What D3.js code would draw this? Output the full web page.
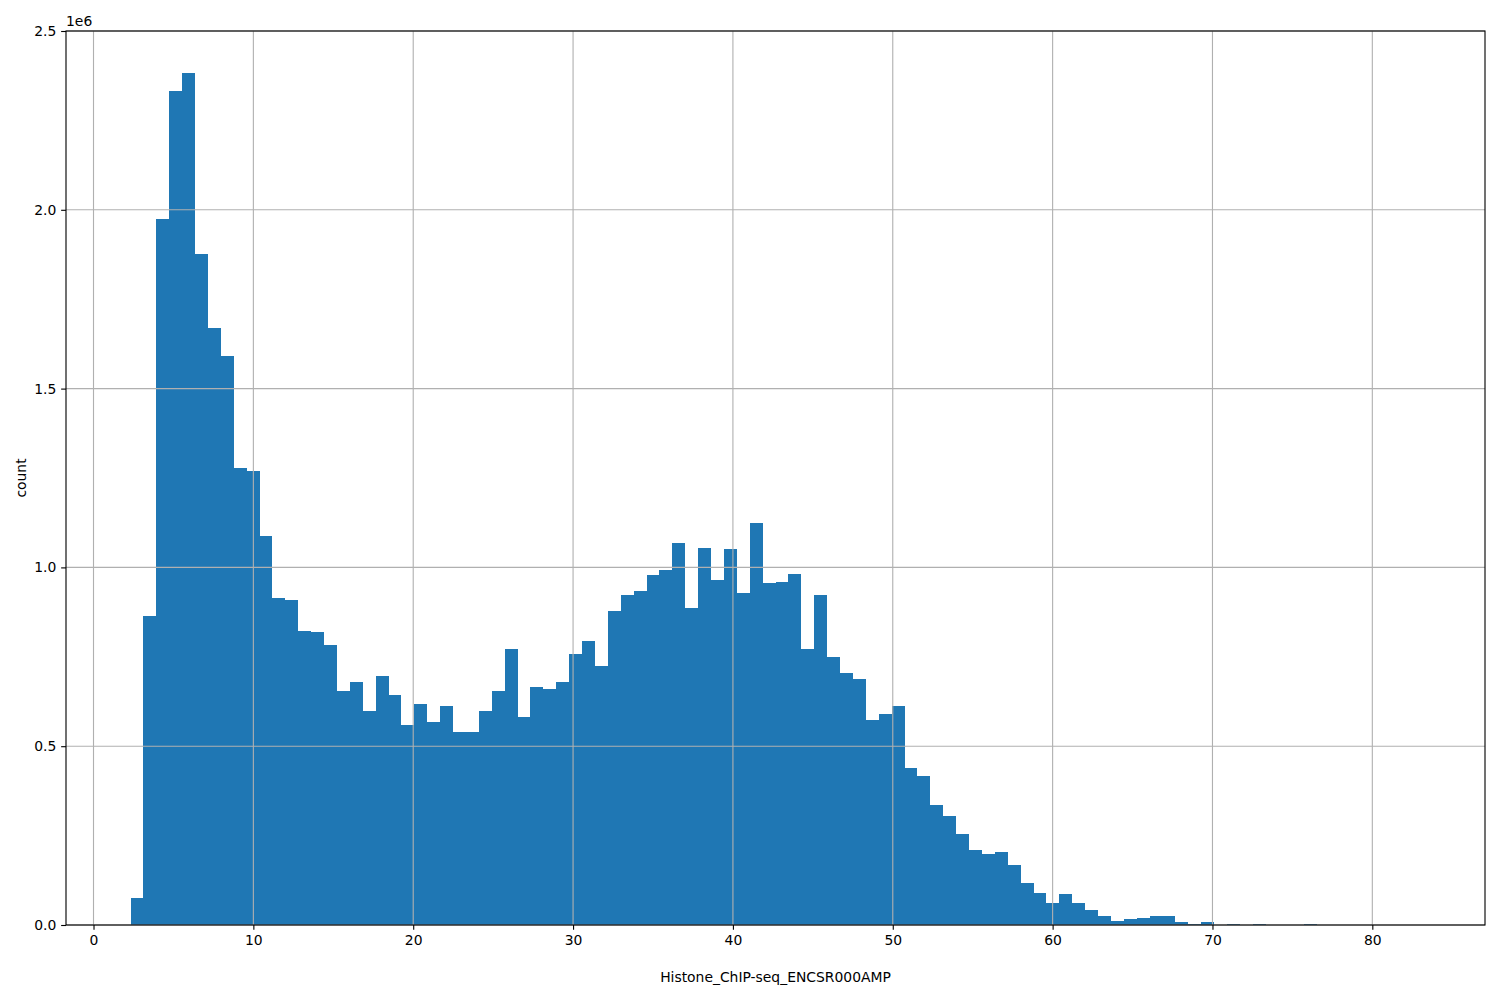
<!DOCTYPE html>
<html>
<head>
<meta charset="utf-8">
<script src="https://cdn.jsdelivr.net/npm/d3@7"></script>
<style>
  html, body { margin: 0; padding: 0; background: #fff; }
  svg { display: block; font-family: "DejaVu Sans", sans-serif; }
</style>
</head>
<body>
<svg id="chart" width="1500" height="1000"></svg>
<script>
// ---- data ----
const binStart = 2.314;     // left edge of first bin
const binWidth = 0.807;     // width of each bin
const counts = [
  76000, 864000, 1974000, 2332000, 2383000, 1876000, 1669000, 1591000, 1278000, 1270000,
  1088000, 914000, 909000, 822000, 819000, 783000, 654000, 680000, 598000, 696000,
  643000, 559000, 618000, 568000, 612000, 540000, 540000, 598000, 654000, 772000,
  582000, 666000, 660000, 680000, 758000, 794000, 724000, 878000, 923000, 934000,
  979000, 993000, 1068000, 886000, 1054000, 965000, 1051000, 928000, 1124000, 956000,
  959000, 982000, 772000, 923000, 749000, 705000, 688000, 573000, 590000, 612000,
  439000, 417000, 336000, 305000, 254000, 210000, 199000, 204000, 168000, 117000,
  89000, 62000, 87000, 62000, 42000, 25000, 11000, 17000, 20000, 25000,
  25000, 7000, 3000, 9000, 0, 3000, 0, 3000, 0, 0,
  0, 3000, 0, 0, 0, 0, 0, 0, 0, 300
];
const xTicks = [0, 10, 20, 30, 40, 50, 60, 70, 80];
const yTicks = [0, 0.5e6, 1.0e6, 1.5e6, 2.0e6, 2.5e6];
const yTickLabels = ["0.0", "0.5", "1.0", "1.5", "2.0", "2.5"];
const xLabel = "Histone_ChIP-seq_ENCSR000AMP";
const yLabel = "count";
const offsetLabel = "1e6";

// ---- layout ----
const L = 66, R = 1485, T = 31, B = 925;
const svg = d3.select("#chart");
const bins = counts.map((c, i) => ({ x0: binStart + i * binWidth, x1: binStart + (i + 1) * binWidth, c }));
const xMin = binStart, xMax = binStart + counts.length * binWidth;
const pad = (xMax - xMin) * 0.05;
const x = d3.scaleLinear().domain([xMin - pad, xMax + pad]).range([L, R]);
const y = d3.scaleLinear().domain([0, 2.5e6]).range([B, T]);

const fs = 13.9, tickLen = 4.86, tickPad = 4.86, lw = 1.11;

// bars
svg.append("g").selectAll("rect").data(bins).join("rect")
  .attr("x", d => x(d.x0))
  .attr("width", d => x(d.x1) - x(d.x0))
  .attr("y", d => y(d.c))
  .attr("height", d => B - y(d.c))
  .attr("fill", "#1f77b4")
  .attr("shape-rendering", "crispEdges");

// grid on top
const grid = svg.append("g").attr("stroke", "#b0b0b0").attr("stroke-width", lw);
xTicks.forEach(t => grid.append("line").attr("x1", x(t)).attr("x2", x(t)).attr("y1", T).attr("y2", B));
yTicks.forEach(t => grid.append("line").attr("x1", L).attr("x2", R).attr("y1", y(t)).attr("y2", y(t)));

// x axis
const xAxis = d3.axisBottom(x).tickValues(xTicks).tickFormat(d3.format("d"))
  .tickSizeInner(tickLen).tickSizeOuter(0).tickPadding(tickPad);
const gx = svg.append("g").attr("transform", `translate(0,${B})`).call(xAxis);
gx.select(".domain").remove();
gx.selectAll("line").attr("stroke", "#000").attr("stroke-width", lw);
gx.selectAll("text").attr("font-size", fs).attr("fill", "#000").attr("font-family", "DejaVu Sans");

// y axis
const yAxis = d3.axisLeft(y).tickValues(yTicks).tickFormat((d, i) => yTickLabels[i])
  .tickSizeInner(tickLen).tickSizeOuter(0).tickPadding(tickPad);
const gy = svg.append("g").attr("transform", `translate(${L},0)`).call(yAxis);
gy.select(".domain").remove();
gy.selectAll("line").attr("stroke", "#000").attr("stroke-width", lw);
gy.selectAll("text").attr("font-size", fs).attr("fill", "#000").attr("font-family", "DejaVu Sans");

// spines
svg.append("rect").attr("x", L).attr("y", T).attr("width", R - L).attr("height", B - T)
  .attr("fill", "none").attr("stroke", "#000").attr("stroke-width", lw);

// labels
svg.append("text").attr("x", (L + R) / 2).attr("y", 982).attr("text-anchor", "middle")
  .attr("font-size", fs).text(xLabel);
svg.append("text").attr("transform", `translate(26,${(T + B) / 2}) rotate(-90)`)
  .attr("text-anchor", "middle").attr("font-size", fs).text(yLabel);
svg.append("text").attr("x", L).attr("y", 26).attr("font-size", fs).text(offsetLabel);
</script>
</body>
</html>
